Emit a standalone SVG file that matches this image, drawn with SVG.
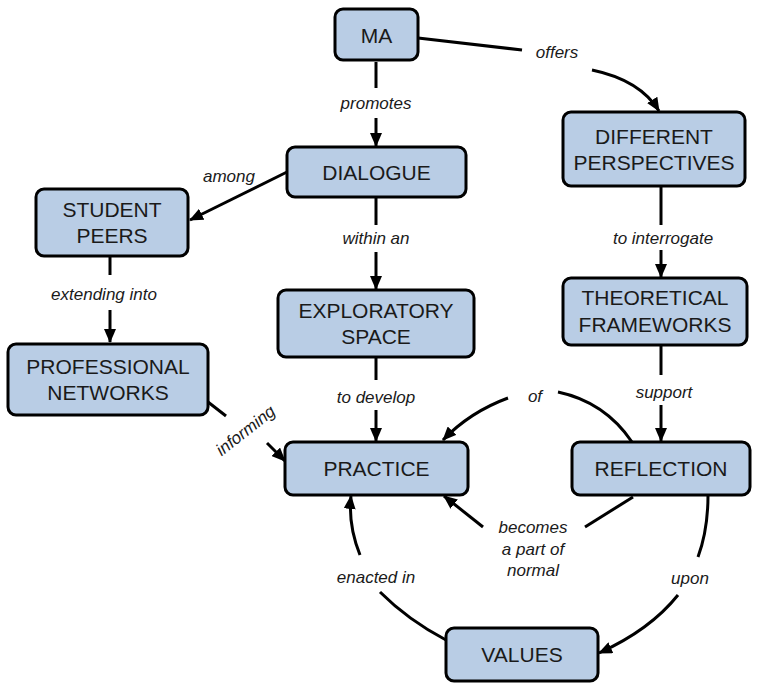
<svg xmlns="http://www.w3.org/2000/svg" width="759" height="685" viewBox="0 0 759 685">
  <style>
    .node rect { fill: #b9cde5; stroke: #000; stroke-width: 3; }
    .node text { font-family: "Liberation Sans", Arial, sans-serif; font-size: 21px; fill: #1a1a1a; text-anchor: middle; }
    .link { fill: none; stroke: #000; stroke-width: 3; }
    .lbl { font-family: "Liberation Sans", Arial, sans-serif; font-size: 17px; font-style: italic; fill: #1a1a1a; text-anchor: middle; }
  </style>
  <defs>
    <marker id="arrow" markerUnits="userSpaceOnUse" markerWidth="14" markerHeight="12" refX="13" refY="6" orient="auto">
      <path d="M0,0 L14,6 L0,12 z" fill="#000"/>
    </marker>
  </defs>
  <rect width="759" height="685" fill="#fff"/>

  <g id="connectors">
    <!-- MA promotes DIALOGUE -->
    <path class="link" d="M376,62 L376,88"/>
    <path class="link" d="M376,118 L376,146" marker-end="url(#arrow)"/>
    <text class="lbl" x="376" y="109">promotes</text>
    <!-- MA offers DIFFERENT PERSPECTIVES -->
    <path class="link" d="M418,38 L522,50"/>
    <path class="link" d="M592,70 Q640,80 659,111" marker-end="url(#arrow)"/>
    <text class="lbl" x="557" y="58">offers</text>
    <!-- DIALOGUE among STUDENT PEERS -->
    <path class="link" d="M287,172 L190,220" marker-end="url(#arrow)"/>
    <text class="lbl" x="229" y="182">among</text>
    <!-- DIALOGUE within an EXPLORATORY SPACE -->
    <path class="link" d="M376,197 L376,225"/>
    <path class="link" d="M376,252 L376,289" marker-end="url(#arrow)"/>
    <text class="lbl" x="376" y="244">within an</text>
    <!-- STUDENT PEERS extending into PROFESSIONAL NETWORKS -->
    <path class="link" d="M110,256 L110,275"/>
    <path class="link" d="M110,310 L110,342" marker-end="url(#arrow)"/>
    <text class="lbl" x="104" y="300">extending into</text>
    <!-- EXPLORATORY SPACE to develop PRACTICE -->
    <path class="link" d="M376,357 L376,380"/>
    <path class="link" d="M376,410 L376,441" marker-end="url(#arrow)"/>
    <text class="lbl" x="376" y="403">to develop</text>
    <!-- PROFESSIONAL NETWORKS informing PRACTICE -->
    <path class="link" d="M208,402 L226,416"/>
    <path class="link" d="M267,443 L285,461" marker-end="url(#arrow)"/>
    <text class="lbl" transform="translate(249,435) rotate(-38)">informing</text>
    <!-- DIFFERENT PERSPECTIVES to interrogate THEORETICAL FRAMEWORKS -->
    <path class="link" d="M661,186 L661,225"/>
    <path class="link" d="M661,250 L661,277" marker-end="url(#arrow)"/>
    <text class="lbl" x="663" y="244">to interrogate</text>
    <!-- THEORETICAL FRAMEWORKS support REFLECTION -->
    <path class="link" d="M661,345 L661,375"/>
    <path class="link" d="M661,405 L661,441" marker-end="url(#arrow)"/>
    <text class="lbl" x="664" y="398">support</text>
    <!-- REFLECTION of PRACTICE -->
    <path class="link" d="M632,442 Q605,402 558,392"/>
    <path class="link" d="M508,398 Q470,412 443,440" marker-end="url(#arrow)"/>
    <text class="lbl" x="535" y="402">of</text>
    <!-- REFLECTION becomes a part of normal PRACTICE -->
    <path class="link" d="M633,497 L585,527"/>
    <path class="link" d="M483,527 L444,496" marker-end="url(#arrow)"/>
    <text class="lbl" x="533" y="533">becomes</text>
    <text class="lbl" x="533" y="555">a part of</text>
    <text class="lbl" x="533" y="576">normal</text>
    <!-- REFLECTION upon VALUES -->
    <path class="link" d="M708,495 Q708,530 698,557"/>
    <path class="link" d="M678,595 Q650,630 599,653" marker-end="url(#arrow)"/>
    <text class="lbl" x="690" y="584">upon</text>
    <!-- VALUES enacted in PRACTICE -->
    <path class="link" d="M446,640 Q408,620 380,592"/>
    <path class="link" d="M360,555 Q348,525 351,496" marker-end="url(#arrow)"/>
    <text class="lbl" x="376" y="583">enacted in</text>
  </g>

  <g id="ma" class="node">
    <rect x="335" y="9" width="83" height="51" rx="8"/>
    <text x="376.5" y="43">MA</text>
  </g>
  <g id="dialogue" class="node">
    <rect x="287" y="147" width="179" height="50" rx="8"/>
    <text x="376.5" y="180">DIALOGUE</text>
  </g>
  <g id="student-peers" class="node">
    <rect x="36" y="189" width="152" height="67" rx="8"/>
    <text x="112" y="217">STUDENT</text>
    <text x="112" y="243">PEERS</text>
  </g>
  <g id="professional-networks" class="node">
    <rect x="8" y="344" width="200" height="71" rx="8"/>
    <text x="108" y="374">PROFESSIONAL</text>
    <text x="108" y="400">NETWORKS</text>
  </g>
  <g id="exploratory-space" class="node">
    <rect x="278" y="290" width="196" height="67" rx="8"/>
    <text x="376" y="318">EXPLORATORY</text>
    <text x="376" y="344">SPACE</text>
  </g>
  <g id="different-perspectives" class="node">
    <rect x="563" y="112" width="182" height="74" rx="8"/>
    <text x="654" y="144">DIFFERENT</text>
    <text x="654" y="170">PERSPECTIVES</text>
  </g>
  <g id="theoretical-frameworks" class="node">
    <rect x="563" y="278" width="184" height="67" rx="8"/>
    <text x="655" y="305">THEORETICAL</text>
    <text x="655" y="332">FRAMEWORKS</text>
  </g>
  <g id="practice" class="node">
    <rect x="285" y="442" width="183" height="53" rx="8"/>
    <text x="376.5" y="476">PRACTICE</text>
  </g>
  <g id="reflection" class="node">
    <rect x="572" y="442" width="178" height="53" rx="8"/>
    <text x="661" y="476">REFLECTION</text>
  </g>
  <g id="values" class="node">
    <rect x="446" y="628" width="152" height="53" rx="8"/>
    <text x="522" y="662">VALUES</text>
  </g>
</svg>
